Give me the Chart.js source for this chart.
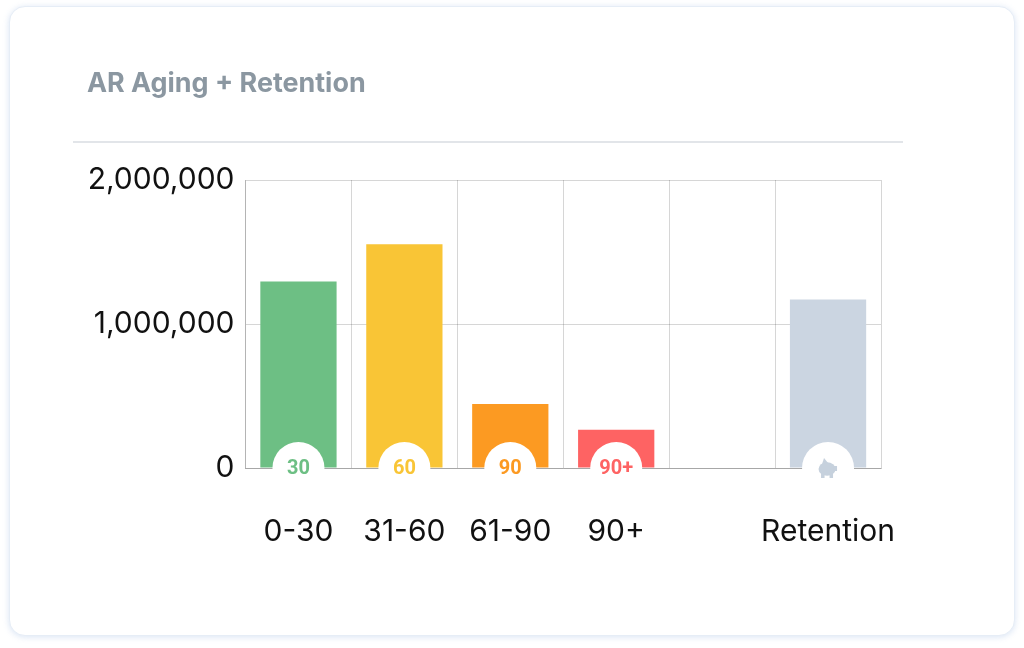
<!DOCTYPE html>
<html>
<head>
<meta charset="utf-8">
<script src="https://cdn.jsdelivr.net/npm/chart.js@4.4.1/dist/chart.umd.min.js"></script>
<style>
  html, body { margin: 0; padding: 0; background: #ffffff; }
  body { width: 1024px; height: 648px; position: relative; overflow: hidden; }
  .card {
    position: absolute; left: 9px; top: 6px; width: 1004px; height: 628px;
    border: 1px solid #e6edf6; border-radius: 16px; background: #fff;
    box-shadow: 0 1px 6px rgba(170, 195, 230, 0.45);
  }
  .title {
    position: absolute; left: 87px; top: 67px; margin: 0;
    font-family: Inter, "Noto Sans", sans-serif; font-weight: 700; font-size: 26.9px;
    line-height: 30px; color: #8b97a1; z-index: 2;
  }
  .rule {
    position: absolute; left: 73px; top: 141px; width: 830px; height: 0;
    border-top: 2px solid #e2e5e9; z-index: 2;
  }
  #chartWrap { position: absolute; left: 0; top: 0; width: 1024px; height: 648px; z-index: 1; }
</style>
</head>
<body>
<div class="card"></div>
<div class="title">AR Aging + Retention</div>
<div class="rule"></div>
<div id="chartWrap"><canvas id="agingChart"></canvas></div>

<script>
// values
const categories = ['0-30', '31-60', '61-90', '90+', '', 'Retention'];
const amounts = [1295000, 1553000, 445000, 265000, null, 1171000];
const barColors = ['#6dbf84', '#f9c536', '#fc9a22', '#fe6363', '#cbd5e1', '#cbd5e1'];
const badgeLabels = ['30', '60', '90', '90+', '', 'piggy'];
const yMax = 2000000;
const yStep = 1000000;

const tickFont = { family: 'Inter, "DejaVu Sans", sans-serif', size: 30 };

// draws a small piggy bank for the retention badge
function drawPiggy(ctx, x, y, color) {
    ctx.save();
    ctx.fillStyle = color;
    ctx.beginPath();
    ctx.ellipse(x, y + 1, 8.5, 6.8, 0, 0, Math.PI * 2);
    ctx.fill();
    // ear
    ctx.beginPath();
    ctx.moveTo(x - 5, y - 4);
    ctx.lineTo(x - 3, y - 10);
    ctx.lineTo(x + 1, y - 5);
    ctx.closePath();
    ctx.fill();
    // snout
    ctx.fillRect(x + 6, y - 2, 4, 5);
    // legs
    ctx.fillRect(x - 6, y + 5, 3.5, 5);
    ctx.fillRect(x + 2.5, y + 5, 3.5, 5);
    ctx.restore();
}

const badgePlugin = {
    id: 'badges',
    afterDatasetsDraw(chart) {
        const ctx = chart.ctx;
        const meta = chart.getDatasetMeta(0);
        const base = chart.scales.y.getPixelForValue(0);
        meta.data.forEach((bar, i) => {
            const label = badgeLabels[i];
            if (!label) return;
            ctx.save();
            ctx.fillStyle = '#ffffff';
            ctx.beginPath();
            ctx.arc(bar.x, base, 26, 0, Math.PI * 2);
            ctx.fill();
            if (label === 'piggy') {
                drawPiggy(ctx, bar.x - 1, base, '#c6d1dd');
            } else {
                ctx.fillStyle = barColors[i];
                ctx.font = '700 20px Roboto, "Liberation Sans", sans-serif';
                ctx.textAlign = 'center';
                ctx.textBaseline = 'middle';
                ctx.fillText(label, bar.x, base + 1);
            }
            ctx.restore();
        });
    }
};

const ctx = document.getElementById('agingChart').getContext('2d');
const agingChart = new Chart(ctx, {
    type: 'bar',
    data: {
        labels: categories,
        datasets: [{
            data: amounts,
            backgroundColor: barColors,
            borderWidth: 0
        }]
    },
    options: {
        responsive: true,
        maintainAspectRatio: false,
        animation: false,
        layout: {
            padding: { left: 85, right: 143, top: 180, bottom: 52 }
        },
        plugins: {
            legend: { display: false },
            tooltip: { enabled: false }
        },
        scales: {
            x: {
                grid: { drawTicks: false, color: 'rgba(0,0,0,0.16)' },
                border: { color: 'rgba(0,0,0,0.22)' },
                ticks: {
                    color: '#111111', font: tickFont, padding: 46,
                    autoSkip: false, maxRotation: 0, minRotation: 0
                }
            },
            y: {
                min: 0,
                max: yMax,
                afterFit(scale) { scale.width = 160.5; },
                grid: { drawTicks: false, color: 'rgba(0,0,0,0.16)' },
                border: { color: 'rgba(0,0,0,0.16)' },
                ticks: {
                    stepSize: yStep,
                    color: '#111111',
                    font: tickFont,
                    padding: 11,
                    callback: value => value.toLocaleString('en-US')
                }
            }
        }
    },
    plugins: [badgePlugin]
});
</script>
</body>
</html>
